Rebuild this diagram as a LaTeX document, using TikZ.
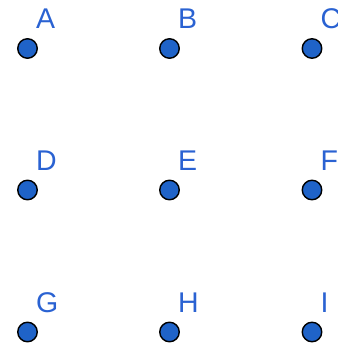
\documentclass[tikz,border=0pt]{standalone}
\usepackage{fontspec}
\setmainfont{Liberation Sans}
\usepackage{xcolor}
\usepackage{tikz}
\usetikzlibrary{positioning}

\definecolor{dotblue}{HTML}{1F63C8}
\definecolor{lblblue}{HTML}{2A62D2}

\begin{document}
\begin{tikzpicture}[
        x=1pt, y=1pt,
        every node/.style={font=\fontsize{28.5}{31}\selectfont},
        pt/.style={circle, draw=black, line width=1.4pt, fill=dotblue, inner sep=0pt, minimum size=19.5pt},
        lbl/.style={text=lblblue, inner sep=0pt}
    ]
        \useasboundingbox (0,0) rectangle (337,344);
        \node[pt] (a) at (27.5,295.5) {};
        \node[pt] (b) at (169.5,295.5) {};
        \node[pt] (c) at (312,295.5) {};
        \node[pt] (d) at (27.5,154) {};
        \node[pt] (e) at (169.5,154) {};
        \node[pt] (f) at (312,154) {};
        \node[pt] (g) at (27.5,12) {};
        \node[pt] (h) at (169.5,12) {};
        \node[pt] (i) at (312,12) {};
        \node[lbl, above right=19.5pt and 8.5pt of a.center] (la) {A};
        \node[lbl, above right=19.5pt and 8.5pt of b.center] (lb) {B};
        \node[lbl, above right=19.5pt and 8.5pt of c.center] (lc) {C};
        \node[lbl, above right=19.5pt and 8.5pt of d.center] (ld) {D};
        \node[lbl, above right=19.5pt and 8.5pt of e.center] (le) {E};
        \node[lbl, above right=19.5pt and 8.5pt of f.center] (lf) {F};
        \node[lbl, above right=19.5pt and 8.5pt of g.center] (lg) {G};
        \node[lbl, above right=19.5pt and 8.5pt of h.center] (lh) {H};
        \node[lbl, above right=19.5pt and 8.5pt of i.center] (li) {I};
    \end{tikzpicture}
\end{document}
